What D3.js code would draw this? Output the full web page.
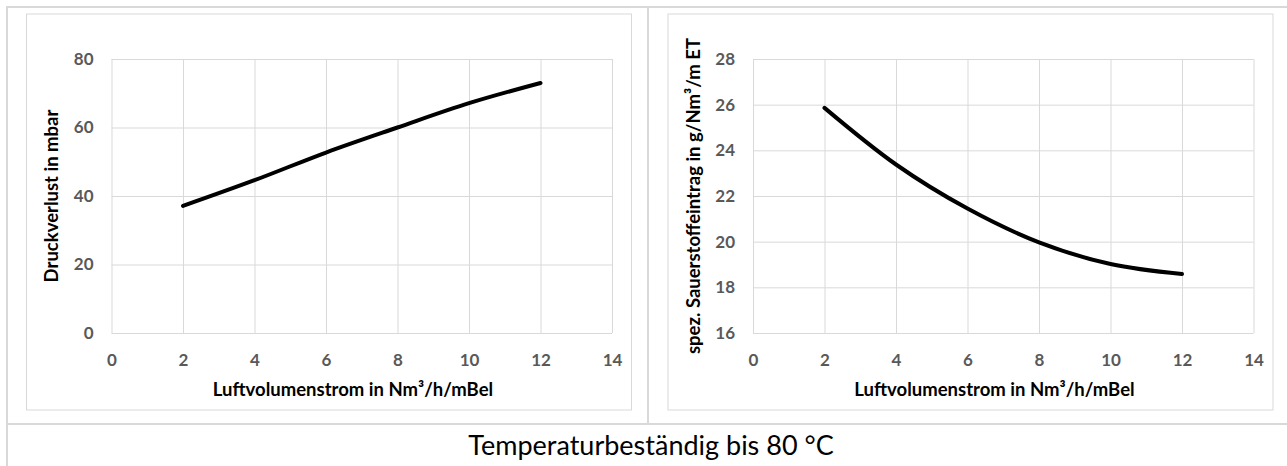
<!DOCTYPE html>
<html>
<head>
<meta charset="utf-8">
<script src="https://cdn.jsdelivr.net/npm/d3@7"></script>
<style>
  body { margin: 0; background: #fff; }
  svg { display: block; }
  .tick text { font-family: Lato, "Open Sans", sans-serif; font-weight: bold; font-size: 17px; fill: #595959; }
  .axisTitle { font-family: Lato, "Open Sans", sans-serif; font-weight: bold; font-size: 18.5px; fill: #000; }
</style>
</head>
<body>
<div id="chart"></div>
<script>
var svgWidth = 1287;
var svgHeight = 466;

// data
var airFlow = [2, 4, 6, 8, 10, 12];
var pressureLoss = [37.1, 44.6, 52.7, 60.0, 67.1, 73.0];
var oxygenTransfer = [25.86, 23.38, 21.45, 19.97, 19.02, 18.58];

var xTicks = [0, 2, 4, 6, 8, 10, 12, 14];
var leftYTicks = [0, 20, 40, 60, 80];
var rightYTicks = [16, 18, 20, 22, 24, 26, 28];

var xTitle = "Luftvolumenstrom in Nm³/h/mBel";
var leftYTitle = "Druckverlust in mbar";
var rightYTitle = "spez. Sauerstoffeintrag in g/Nm³/m ET";
var caption = "Temperaturbeständig bis 80 °C";

var svg = d3.select("#chart")
    .append("svg")
    .attr("width", svgWidth)
    .attr("height", svgHeight);

// table lines around the two charts
var border = "#d9d9d9";
svg.append("line").attr("x1", 7).attr("x2", svgWidth).attr("y1", 7).attr("y2", 7)
    .attr("stroke", border).attr("stroke-width", 2);
svg.append("line").attr("x1", 7).attr("x2", 7).attr("y1", 6).attr("y2", svgHeight)
    .attr("stroke", border).attr("stroke-width", 2);
svg.append("line").attr("x1", 648).attr("x2", 648).attr("y1", 6).attr("y2", 424)
    .attr("stroke", border).attr("stroke-width", 2);
svg.append("line").attr("x1", 7).attr("x2", svgWidth).attr("y1", 424).attr("y2", 424)
    .attr("stroke", border).attr("stroke-width", 2);

svg.append("text")
    .attr("x", 651)
    .attr("y", 455)
    .attr("text-anchor", "middle")
    .style("font-family", "Lato, 'Open Sans', sans-serif")
    .style("font-size", "27px")
    .style("fill", "#000")
    .text(caption);

function drawChart(offsetX, yDomain, yTicks, values, yTitle) {
    var frame = { left: offsetX + 26, top: 13.5, width: 605, height: 396 };
    var plot = { left: offsetX + 111.5, right: offsetX + 612, top: 59, bottom: 333 };

    svg.append("rect")
        .attr("x", frame.left + 0.5)
        .attr("y", frame.top + 0.5)
        .attr("width", frame.width)
        .attr("height", frame.height)
        .attr("fill", "#fff")
        .attr("stroke", border);

    var xScale = d3.scaleLinear().domain([0, 14]).range([plot.left, plot.right]);
    var yScale = d3.scaleLinear().domain(yDomain).range([plot.bottom, plot.top]);

    var g = svg.append("g");

    // gridlines
    g.append("g")
        .attr("transform", `translate(0, ${plot.bottom})`)
        .call(d3.axisBottom(xScale).tickValues(xTicks).tickSize(-(plot.bottom - plot.top)).tickFormat(""))
        .call(a => a.select(".domain").remove())
        .call(a => a.selectAll("line").attr("stroke", border));
    g.append("g")
        .attr("transform", `translate(${plot.left}, 0)`)
        .call(d3.axisLeft(yScale).tickValues(yTicks).tickSize(-(plot.right - plot.left)).tickFormat(""))
        .call(a => a.select(".domain").remove())
        .call(a => a.selectAll("line").attr("stroke", border));

    // tick labels
    g.append("g")
        .attr("transform", `translate(0, ${plot.bottom})`)
        .call(d3.axisBottom(xScale).tickValues(xTicks).tickSize(0).tickPadding(21))
        .call(a => a.select(".domain").remove());
    g.append("g")
        .attr("transform", `translate(${plot.left}, 0)`)
        .call(d3.axisLeft(yScale).tickValues(yTicks).tickSize(0).tickPadding(18))
        .call(a => a.select(".domain").remove());

    var line = d3.line()
        .x((d, i) => xScale(airFlow[i]))
        .y(d => yScale(d))
        .curve(d3.curveCatmullRom.alpha(0.5));

    g.append("path")
        .datum(values)
        .attr("d", line)
        .attr("fill", "none")
        .attr("stroke", "#000")
        .attr("stroke-width", 4)
        .attr("stroke-linecap", "round");

    g.append("text")
        .attr("class", "axisTitle")
        .attr("x", offsetX + 353)
        .attr("y", 396)
        .attr("text-anchor", "middle")
        .text(xTitle);

    g.append("text")
        .attr("class", "axisTitle")
        .attr("transform", `translate(${offsetX + 58}, ${(plot.top + plot.bottom) / 2}) rotate(-90)`)
        .attr("text-anchor", "middle")
        .text(yTitle);
}

drawChart(0, [0, 80], leftYTicks, pressureLoss, leftYTitle);
drawChart(641.5, [16, 28], rightYTicks, oxygenTransfer, rightYTitle);
</script>
</body>
</html>
